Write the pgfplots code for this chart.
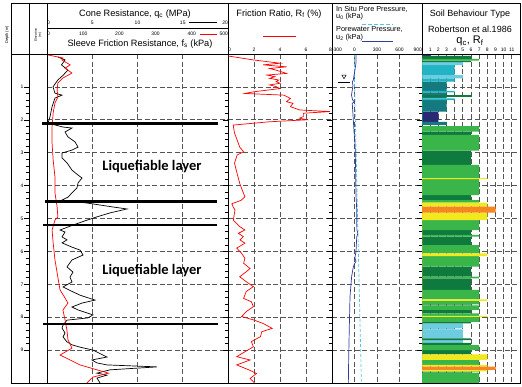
\documentclass[border=0pt]{standalone}
\usepackage{pgfplots}
\pgfplotsset{compat=1.18}
\usepackage{fontspec}
\setmainfont{Liberation Sans}
\newfontfamily\calibri{Carlito}
\definecolor{gridc}{RGB}{85,85,85}
\definecolor{zA}{RGB}{40,42,115}
\definecolor{zB}{RGB}{20,122,128}
\definecolor{zC}{RGB}{32,180,196}
\definecolor{zD}{RGB}{110,204,224}
\definecolor{zE}{RGB}{14,122,62}
\definecolor{zF}{RGB}{58,181,74}
\definecolor{zG}{RGB}{242,232,30}
\definecolor{zH}{RGB}{246,134,32}
\definecolor{u2c}{RGB}{46,60,160}
\definecolor{u0c}{RGB}{80,195,225}
\newcommand{\lb}[1]{\makebox[0pt][l]{#1}}
\newcommand{\rb}[1]{\makebox[0pt][r]{#1}}
\pgfplotsset{
  panel/.style={
    scale only axis, anchor=south west, height=329pt,
    y dir=reverse, ymin=0, ymax=10,
    axis line style={black, line width=0.8pt},
    ytick={1,2,...,9}, yticklabels={}, minor y tick num=4,
    ytick pos=left, tick align=outside,
    major tick length=5pt, minor tick length=3pt,
    tick style={black, line width=0.6pt},
    xtick style={draw=none},
    xticklabel pos=upper,
    xticklabel style={font=\fontsize{5}{5}\selectfont, anchor=center},
    grid=major,
    major grid style={gridc, line width=0.7pt, dash pattern=on 5pt off 2.5pt},
    /pgf/number format/assume math mode=true,
  }
}
\begin{document}
\begin{tikzpicture}[x=1pt,y=1pt]
\path[use as bounding box] (0,0) rectangle (522,386);

% elevation / depth column
\begin{axis}[panel, at={(29pt,3pt)}, width=18pt, xmin=0, xmax=1, xtick=\empty, grid=none,
  yticklabels={1,2,3,4,5,6,7,8,9},
  yticklabel style={font=\fontsize{5}{5}\selectfont, inner sep=0.5pt}]
\end{axis}

% cone resistance
\begin{axis}[panel, at={(47pt,3pt)}, width=181pt, xmin=0, xmax=20, xtick={0,5,10,15,20},
  xticklabels={\lb{0},5,10,15,\rb{20}},
  ytick style={draw=none}, minor y tick num=0, xticklabel style={yshift=26pt}]
\addplot[black, line width=0.7pt] table[x=q, y=d] {
d q
0.09 1.2
0.18 2.0
0.33 1.6
0.49 2.3
0.64 1.8
0.79 1.2
1.00 0.66
1.19 0.88
1.25 1.66
1.34 0.88
1.61 0.55
1.91 0.33
2.10 0.11
2.22 1.77
2.25 2.76
2.37 1.99
2.52 2.32
2.67 3.09
2.83 3.43
2.92 2.76
3.01 1.66
3.16 1.66
3.31 2.21
3.53 2.76
3.68 3.43
3.77 3.87
3.92 3.43
4.07 3.31
4.19 2.87
4.35 2.32
4.44 1.66
4.53 4.42
4.59 5.86
4.65 7.29
4.71 8.84
4.83 6.96
4.95 5.52
5.05 4.42
5.20 2.87
5.35 1.44
5.41 1.99
5.56 1.66
5.65 2.21
5.74 1.66
5.87 2.76
5.96 3.65
6.11 3.98
6.26 2.76
6.47 2.21
6.63 2.87
6.78 2.54
6.93 2.76
7.08 1.77
7.23 2.87
7.33 3.65
7.48 5.30
7.57 3.87
7.69 2.76
7.78 3.43
7.93 5.08
8.02 4.53
8.09 2.21
8.24 1.77
8.33 1.66
8.48 1.99
8.60 1.77
8.75 2.21
8.84 2.76
8.91 3.65
9.00 5.08
9.21 6.63
9.30 4.97
9.39 5.52
9.45 6.63
9.51 12.15
9.60 6.96
9.70 5.52
9.76 6.63
9.85 5.52
10.0 5.86
};
\end{axis}

% sleeve friction (same panel, kPa scale)
\begin{axis}[panel, at={(47pt,3pt)}, width=181pt, xmin=0, xmax=500, xtick={0,100,...,500},
  xticklabels={\lb{0},100,200,300,400,\rb{500}},
  grid=none, axis line style={draw=none}, ytick=\empty, clip=false,
  xticklabel style={yshift=15pt}]
\addplot[red, line width=0.7pt] table[x=f, y=d] {
d f
0.03 3
0.12 44
0.18 41
0.33 64
0.43 50
0.58 69
0.73 44
0.88 30
1.09 28
1.31 30
1.49 22
1.79 17
2.22 14
2.71 14
3.22 17
3.74 22
4.22 22
4.65 28
4.95 30
5.05 22
5.35 14
5.74 17
6.26 22
6.78 30
7.17 36
7.42 50
7.57 58
7.78 44
8.09 50
8.39 55
8.69 58
8.94 69
9.15 36
9.30 64
9.45 91
9.60 138
9.70 170
9.82 127
10.0 110
};
\addplot[black, line width=2.6pt] coordinates {(-14,2.12) (472,2.12)};
\addplot[black, line width=2.6pt] coordinates {(-6,4.48) (469,4.48)};
\addplot[black, line width=2.6pt] coordinates {(-11,5.20) (469,5.20)};
\addplot[black, line width=2.6pt] coordinates {(-11,8.21) (472,8.21)};
\node[font=\calibri\bfseries\fontsize{14.5}{14.5}\selectfont] at (axis cs:290,3.43) {Liquefiable layer};
\node[font=\calibri\bfseries\fontsize{14.5}{14.5}\selectfont] at (axis cs:290,6.57) {Liquefiable layer};
\end{axis}

% friction ratio
\begin{axis}[panel, at={(228pt,3pt)}, width=104pt, xmin=0, xmax=8, xtick={0,2,4,6,8},
  xticklabels={\lb{0},2,4,6,\rb{8}},
  xticklabel style={yshift=-0.5pt}]
\addplot[red, line width=0.7pt] table[x=r, y=d] {
d r
0.06 0
0.18 1.95
0.28 4.0
0.33 2.7
0.39 4.5
0.44 3.2
0.49 3.7
0.59 4.5
0.64 3.0
0.69 3.6
0.74 3.2
0.79 3.9
0.84 3.7
0.89 4.0
0.94 3.2
0.99 3.7
1.05 4.0
1.15 1.95
1.20 1.3
1.25 4.3
1.35 4.8
1.45 4.5
1.50 5.0
1.60 4.8
1.70 5.5
1.75 7.85
1.80 5.8
1.90 5.8
1.95 5.5
2.00 6.05
2.06 3.2
2.16 0.4
2.40 0.5
2.61 0.7
2.83 0.9
2.97 1.2
3.07 0.7
3.32 0.5
3.63 0.7
3.93 0.9
4.14 1.1
4.34 1.3
4.45 1.0
4.55 0.3
4.65 0.4
4.74 0.54
5.05 0.41
5.25 0.92
5.35 1.3
5.45 0.8
5.55 1.18
5.65 0.92
5.75 1.3
5.90 0.67
6.06 1.05
6.21 1.3
6.36 1.2
6.52 1.7
6.62 1.4
6.77 0.9
6.92 1.4
7.07 1.95
7.22 1.4
7.43 1.2
7.53 1.8
7.68 1.95
7.83 1.4
7.98 1.05
8.08 1.95
8.19 2.7
8.34 3.4
8.44 2.6
8.59 2.5
8.74 1.8
8.90 1.95
9.05 1.3
9.20 0.67
9.30 1.7
9.45 0.67
9.60 1.6
9.71 2.2
9.86 1.7
10.0 2.05
};
\end{axis}

% pore pressure
\begin{axis}[panel, at={(332pt,3pt)}, width=90pt, xmin=-300, xmax=900, xtick={-300,0,300,600,900},
  xticklabels={\lb{-300},0,300,600,\rb{900}},
  clip=false, xticklabel style={yshift=-0.5pt}]
\addplot[u0c, line width=0.7pt, dash pattern=on 3pt off 2pt] coordinates {(0,0) (0,0.85) (92,10)};
\addplot[u2c, line width=0.7pt] table[x=u, y=d] {
d u
0.00 20
0.27 20
0.50 5
0.70 -10
0.79 -16
0.85 -30
0.95 -20
1.25 -40
1.40 -25
1.45 0
1.50 -30
2.00 -16
2.40 -5
2.70 7
3.50 15
4.30 20
4.70 29
5.00 29
5.35 32
5.45 45
5.55 30
6.00 20
6.20 5
6.30 20
6.40 -5
6.47 -16
6.76 -38
7.37 -60
8.28 -69
9.30 -78
10.0 -82
};
\addplot[black, line width=0.9pt] coordinates {(-225,0.85) (-60,0.85)};
\addplot[black, only marks, mark=triangle*, mark size=2.4pt,
  mark options={rotate=180, fill=white, line width=0.5pt}] coordinates {(-140,0.68)};
\end{axis}

% soil behaviour type
\begin{axis}[panel, at={(422pt,3pt)}, width=98pt, xmin=0, xmax=12, xtick={1,2,...,11},
  xticklabel style={yshift=-1pt}]
\addplot[fill=zA, draw=none] coordinates {(0,0)(1,0)(1,0.06)(0,0.06)(0,1.75)(2,1.75)(2,2.06)(0,2.06)};
\addplot[fill=zB, draw=none] coordinates {(0,0.84)(3,0.84)(3,1.12)(0,1.12)(0,1.17)(3,1.17)(3,1.25)(0,1.25)(0,1.30)(3,1.30)(3,1.35)(0,1.35)(0,1.40)(3,1.40)(3,1.75)(0,1.75)(0,2.06)(3,2.06)(3,2.16)(0,2.16)};
\addplot[fill=zC, draw=none] coordinates {(0,0.34)(4,0.34)(4,0.64)(0,0.64)(0,0.74)(4,0.74)(4,0.84)(0,0.84)(0,1.12)(4,1.12)(4,1.17)(0,1.17)(0,1.35)(4,1.35)(4,1.40)(0,1.40)(0,8.34)(4,8.34)(4,8.37)(0,8.37)};
\addplot[fill=zD, draw=none] coordinates {(0,0.25)(5,0.25)(5,0.34)(0,0.34)(0,0.64)(5,0.64)(5,0.74)(0,0.74)(0,8.19)(5,8.19)(5,8.34)(0,8.34)(0,8.37)(5,8.37)(5,8.64)(0,8.64)(0,8.70)(5,8.70)(5,8.78)(0,8.78)};
\addplot[fill=zE, draw=none] coordinates {(0,0.06)(6,0.06)(6,0.15)(0,0.15)(0,0.20)(6,0.20)(6,0.25)(0,0.25)(0,1.25)(6,1.25)(6,1.30)(0,1.30)(0,2.36)(6,2.36)(6,2.46)(0,2.46)(0,2.94)(6,2.94)(6,3.37)(0,3.37)(0,4.29)(6,4.29)(6,4.44)(0,4.44)(0,5.35)(6,5.35)(6,5.50)(0,5.50)(0,5.55)(6,5.55)(6,5.81)(0,5.81)(0,6.46)(6,6.46)(6,6.77)(0,6.77)(0,6.82)(6,6.82)(6,7.17)(0,7.17)(0,7.61)(6,7.61)(6,7.64)(0,7.64)(0,7.78)(6,7.78)(6,7.88)(0,7.88)(0,8.14)(6,8.14)(6,8.19)(0,8.19)(0,8.64)(6,8.64)(6,8.70)(0,8.70)(0,8.78)(6,8.78)(6,8.85)(0,8.85)(0,9.00)(6,9.00)(6,9.13)(0,9.13)(0,9.68)(6,9.68)(6,9.70)(0,9.70)};
\addplot[fill=zF, draw=none] coordinates {(0,0.15)(7,0.15)(7,0.20)(0,0.20)(0,2.19)(7,2.19)(7,2.36)(0,2.36)(0,2.46)(7,2.46)(7,2.94)(0,2.94)(0,3.37)(7,3.37)(7,3.77)(0,3.77)(0,3.80)(7,3.80)(7,4.29)(0,4.29)(0,4.44)(7,4.44)(7,4.52)(0,4.52)(0,5.05)(7,5.05)(7,5.35)(0,5.35)(0,5.50)(7,5.50)(7,5.55)(0,5.55)(0,5.81)(7,5.81)(7,6.06)(0,6.06)(0,6.14)(7,6.14)(7,6.46)(0,6.46)(0,6.77)(7,6.77)(7,6.82)(0,6.82)(0,7.17)(7,7.17)(7,7.46)(0,7.46)(0,7.50)(7,7.50)(7,7.61)(0,7.61)(0,7.64)(7,7.64)(7,7.78)(0,7.78)(0,7.88)(7,7.88)(7,7.96)(0,7.96)(0,7.99)(7,7.99)(7,8.14)(0,8.14)(0,8.85)(7,8.85)(7,9.00)(0,9.00)(0,9.30)(7,9.30)(7,9.45)(0,9.45)(0,9.65)(7,9.65)(7,9.68)(0,9.68)(0,9.70)(7,9.70)(7,10)(0,10)};
\addplot[fill=zG, draw=none] coordinates {(0,3.77)(8,3.77)(8,3.80)(0,3.80)(0,4.52)(8,4.52)(8,4.64)(0,4.64)(0,4.82)(8,4.82)(8,5.05)(0,5.05)(0,6.06)(8,6.06)(8,6.14)(0,6.14)(0,7.46)(8,7.46)(8,7.50)(0,7.50)(0,7.96)(8,7.96)(8,7.99)(0,7.99)(0,9.13)(8,9.13)(8,9.30)(0,9.30)(0,9.45)(8,9.45)(8,9.50)(0,9.50)(0,9.60)(8,9.60)(8,9.65)(0,9.65)};
\addplot[fill=zH, draw=none] coordinates {(0,4.64)(9,4.64)(9,4.82)(0,4.82)(0,9.50)(9,9.50)(9,9.60)(0,9.60)};
\end{axis}

% header frame
\draw[line width=0.8pt] (11,3) rectangle (520,383);
\draw[line width=0.8pt] (11,332) -- (520,332);
\foreach \x in {29,47,228,332,422} \draw[line width=0.8pt] (\x,332) -- (\x,383);
\draw[line width=0.8pt] (47,358) -- (228,358);

% header texts
\node[rotate=90, font=\fontsize{4}{4}\selectfont] at (7,351) {Depth (m)};
\node[rotate=90, align=center, font=\fontsize{3.3}{3.8}\selectfont] at (38,351) {Elevation\\(m)};
\node[font=\fontsize{9.2}{9.2}\selectfont] at (135,372) {Cone Resistance, q\textsubscript{c} (MPa)};
\node[font=\fontsize{9.2}{9.2}\selectfont] at (140,342) {Sleeve Friction Resistance, f\textsubscript{s} (kPa)};
\draw[black, line width=0.8pt] (189,363.3) -- (217,363.3);
\draw[red, line width=0.8pt] (200,352) -- (217,352);
\node[font=\fontsize{9.2}{9.2}\selectfont] at (279,372) {Friction Ratio, R\textsubscript{f} (\%)};
\draw[red, line width=0.8pt] (263,350) -- (296,350);
\node[anchor=west, font=\fontsize{7.3}{7.3}\selectfont, inner sep=0pt] at (336,377) {In Situ Pore Pressure,};
\node[anchor=west, font=\fontsize{7.3}{7.3}\selectfont, inner sep=0pt] at (336,369.3) {u\textsubscript{0} (kPa)};
\draw[u0c, line width=0.8pt, dash pattern=on 4pt off 2pt] (362,362) -- (393,362);
\node[anchor=west, font=\fontsize{7.3}{7.3}\selectfont, inner sep=0pt] at (336,356.5) {Porewater Pressure,};
\node[anchor=west, font=\fontsize{7.3}{7.3}\selectfont, inner sep=0pt] at (336,348.8) {u\textsubscript{2} (kPa)};
\draw[u2c, line width=0.8pt] (362,345) -- (393,345);
\node[font=\fontsize{9}{9}\selectfont] at (470,372) {Soil Behaviour Type};
\node[font=\fontsize{9}{9}\selectfont] at (470,357) {Robertson et al.1986};
\node[font=\fontsize{11}{11}\selectfont] at (470,345) {q\textsubscript{c}, R\textsubscript{f}};
\end{tikzpicture}
\end{document}
